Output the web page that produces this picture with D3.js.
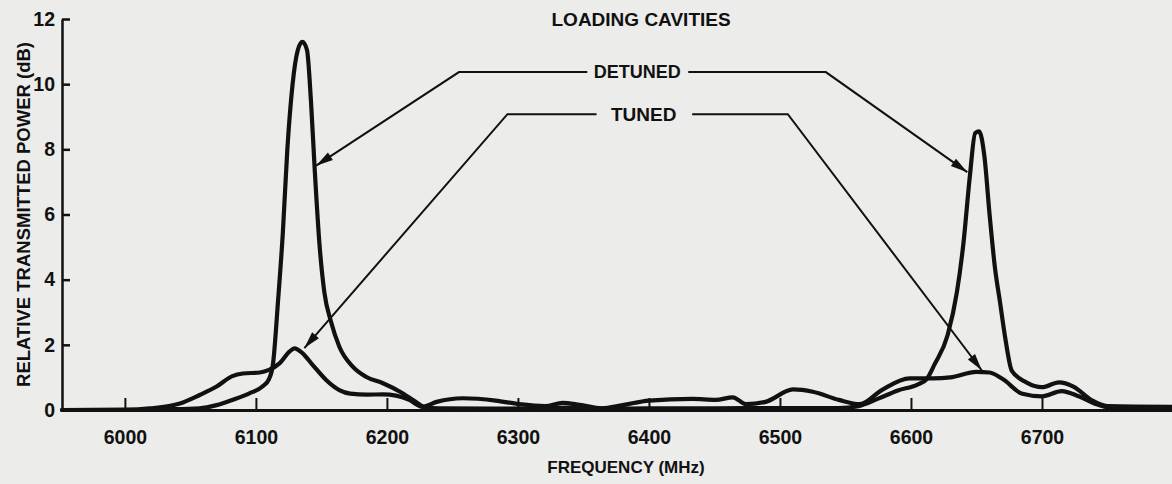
<!DOCTYPE html>
<html>
<head>
<meta charset="utf-8">
<script src="https://cdn.jsdelivr.net/npm/d3@7"></script>
<style>
  html, body { margin: 0; padding: 0; background: #ececea; }
  svg { display: block; }
  text { font-family: "Liberation Sans", Arial, Helvetica, sans-serif; font-weight: bold; fill: #111; }
</style>
</head>
<body>
<div id="chart"></div>
<script>
// frequency ticks (MHz) and power ticks (dB)
var freqTicks = [6000, 6100, 6200, 6300, 6400, 6500, 6600, 6700]
var powerTicks = [0, 2, 4, 6, 8, 10, 12]

// loading cavities detuned
var detunedFreq = [5952, 6000, 6030, 6057, 6070, 6082, 6095, 6105, 6110, 6113, 6117, 6120.5, 6124, 6128, 6132, 6135.5, 6139, 6142, 6145, 6148.5, 6152.3, 6157.4, 6163.7, 6173.9, 6184, 6197, 6210, 6222, 6229, 6240, 6280, 6320, 6345, 6365, 6400, 6450, 6500, 6545, 6560, 6575, 6590, 6605, 6612, 6618, 6628, 6635, 6640, 6645, 6649, 6652, 6656, 6660, 6664, 6668, 6672, 6677, 6688, 6700, 6713, 6724, 6738, 6750, 6800]
var detunedPower = [0.0, 0.0, 0.02, 0.05, 0.15, 0.31, 0.51, 0.72, 0.95, 1.4, 3.4, 5.4, 8.0, 10.0, 11.05, 11.3, 11.05, 9.5, 7.3, 5.1, 3.6, 2.7, 1.94, 1.33, 1.02, 0.82, 0.56, 0.25, 0.08, 0.05, 0.04, 0.05, 0.08, 0.04, 0.05, 0.05, 0.06, 0.06, 0.12, 0.35, 0.6, 0.78, 0.95, 1.4, 2.3, 3.6, 5.1, 7.2, 8.5, 8.55, 7.8, 6.0, 4.4, 3.3, 2.2, 1.2, 0.85, 0.7, 0.85, 0.72, 0.3, 0.12, 0.1]

// loading cavities tuned
var tunedFreq = [5952, 6000, 6019, 6042, 6057, 6070, 6082, 6090, 6103, 6110, 6118, 6125.6, 6129.4, 6135.7, 6143.4, 6153.6, 6163.7, 6172, 6185, 6197, 6207, 6217, 6227, 6238, 6258, 6283, 6301, 6321, 6334, 6347, 6364, 6380, 6400, 6433, 6451, 6464, 6474, 6489, 6510, 6525, 6545, 6561, 6578, 6599, 6617, 6630, 6650, 6660, 6670, 6685, 6700, 6715, 6728, 6740, 6752, 6800]
var tunedPower = [0.0, 0.01, 0.05, 0.2, 0.46, 0.72, 1.04, 1.12, 1.15, 1.23, 1.43, 1.79, 1.89, 1.74, 1.38, 0.92, 0.61, 0.5, 0.47, 0.48, 0.44, 0.31, 0.1, 0.25, 0.36, 0.29, 0.18, 0.12, 0.22, 0.16, 0.05, 0.15, 0.29, 0.34, 0.31, 0.39, 0.18, 0.25, 0.63, 0.56, 0.31, 0.18, 0.62, 0.97, 0.97, 1.0, 1.17, 1.15, 0.95, 0.5, 0.42, 0.58, 0.42, 0.2, 0.08, 0.08]

// annotation leaders, in (MHz, dB)
var detunedLeft = [[6353, 10.37], [6255, 10.37], [6146, 7.5]]
var detunedRight = [[6430, 10.37], [6535, 10.37], [6643, 7.3]]
var tunedLeft = [[6360, 9.08], [6292, 9.08], [6137, 1.9]]
var tunedRight = [[6433, 9.08], [6506, 9.08], [6654, 1.22]]

var W = 1172, H = 484

var svg = d3.select("#chart").append("svg")
    .attr("width", W)
    .attr("height", H)

var x = d3.scaleLinear().domain([5952, 6800]).range([62, 1173])
var y = d3.scaleLinear().domain([0, 12]).range([410, 19])

// axes
var xAxis = d3.axisBottom(x).tickValues(freqTicks).tickFormat(d3.format("d"))
    .tickSize(-12).tickPadding(20).tickSizeOuter(0)
var yAxis = d3.axisLeft(y).tickValues(powerTicks).tickFormat(d3.format("d"))
    .tickSize(-8).tickPadding(7).tickSizeOuter(0)

var gx = svg.append("g").attr("transform", "translate(0," + y(0) + ")").call(xAxis)
var gy = svg.append("g").attr("transform", "translate(" + x(5952) + ",0)").call(yAxis)

gx.select(".domain").attr("stroke", "#111").attr("stroke-width", 3)
gy.select(".domain").attr("stroke", "#111").attr("stroke-width", 2.5)
gx.selectAll(".tick line").attr("stroke", "#111").attr("stroke-width", 2)
gy.selectAll(".tick line").attr("stroke", "#111").attr("stroke-width", 2.5)
gx.selectAll(".tick text").attr("font-size", 19.5).attr("fill", "#111")
gy.selectAll(".tick text").attr("font-size", 19.5).attr("fill", "#111")

// titles
svg.append("text")
    .attr("transform", "translate(23," + ((y(0) + y(12)) / 2) + ") rotate(-90)")
    .attr("text-anchor", "middle")
    .attr("dominant-baseline", "central")
    .attr("font-size", 18.5)
    .text("RELATIVE TRANSMITTED POWER (dB)")

svg.append("text")
    .attr("x", 626).attr("y", 473)
    .attr("text-anchor", "middle")
    .attr("font-size", 17)
    .text("FREQUENCY (MHz)")

// curves
var line = d3.line()
    .x(function (d) { return x(d[0]) })
    .y(function (d) { return y(d[1]) })
    .curve(d3.curveMonotoneX)

var detuned = detunedFreq.map(function (f, i) { return [f, detunedPower[i]] })
var tuned = tunedFreq.map(function (f, i) { return [f, tunedPower[i]] })

svg.selectAll(".curve")
    .data([tuned, detuned])
    .enter().append("path")
    .attr("class", "curve")
    .attr("d", line)
    .attr("fill", "none")
    .attr("stroke", "#111")
    .attr("stroke-width", 4.2)
    .attr("stroke-linejoin", "round")
    .attr("stroke-linecap", "round")

// labels + leader arrows
svg.append("text").attr("x", x(6394)).attr("y", y(12)).attr("dominant-baseline", "central")
    .attr("text-anchor", "middle").attr("font-size", 19).text("LOADING CAVITIES")
svg.append("text").attr("x", x(6391)).attr("y", y(10.37)).attr("dominant-baseline", "central")
    .attr("text-anchor", "middle").attr("font-size", 18).text("DETUNED")
svg.append("text").attr("x", x(6396)).attr("y", y(9.08)).attr("dominant-baseline", "central")
    .attr("text-anchor", "middle").attr("font-size", 19).text("TUNED")

var leader = d3.line()
    .x(function (d) { return x(d[0]) })
    .y(function (d) { return y(d[1]) })

;[detunedLeft, detunedRight, tunedLeft, tunedRight].forEach(function (pts) {
    svg.append("path")
        .attr("d", leader(pts))
        .attr("fill", "none")
        .attr("stroke", "#111")
        .attr("stroke-width", 2)

    // arrow head at the last point
    var a = pts[pts.length - 2], b = pts[pts.length - 1]
    var x1 = x(a[0]), y1 = y(a[1]), x2 = x(b[0]), y2 = y(b[1])
    var ang = Math.atan2(y2 - y1, x2 - x1)
    var len = 17, half = 4.5
    var bx = x2 - len * Math.cos(ang), by = y2 - len * Math.sin(ang)
    var pts2 = [
        [x2, y2],
        [bx + half * Math.sin(ang), by - half * Math.cos(ang)],
        [bx - half * Math.sin(ang), by + half * Math.cos(ang)]
    ]
    svg.append("path")
        .attr("d", "M" + pts2.join("L") + "Z")
        .attr("fill", "#111")
})
</script>
</body>
</html>
